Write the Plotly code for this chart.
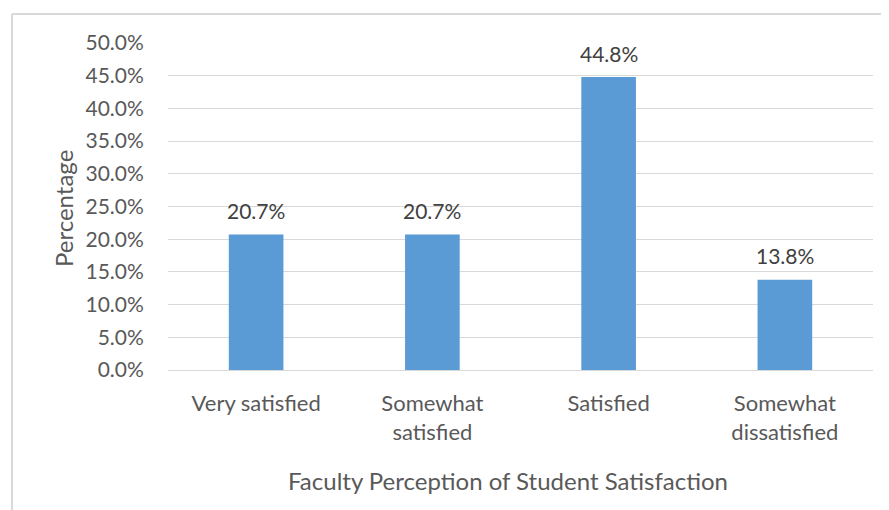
import plotly.graph_objects as go

categories = ["Very satisfied", "Somewhat<br>satisfied", "Satisfied", "Somewhat<br>dissatisfied"]
values = [20.7, 20.7, 44.8, 13.8]
x_title = "Faculty Perception of Student Satisfaction"
y_title = "Percentage"

FONT = "Lato"
GREY = "#595959"
W, H = 881, 502
L, R, T, B = 160, 16, 35, 140
pw, ph = W - L - R, H - T - B

fig = go.Figure(go.Bar(
    x=categories, y=values,
    marker=dict(color="#5b9bd5", line=dict(width=0)),
    hoverinfo="skip",
))

annotations = [
    dict(x=c, y=v, xref="x", yref="y", text=f"{v:.1f}%", showarrow=False,
         yanchor="middle", yshift=24, font=dict(family=FONT, size=21, color="#404040"))
    for c, v in zip(categories, values)
]
annotations += [
    dict(x=(55 - L) / pw, y=(H - B - 201) / ph, xref="paper", yref="paper",
         text=y_title, textangle=-90, showarrow=False, xanchor="center", yanchor="middle",
         font=dict(family=FONT, size=24, color=GREY)),
    dict(x=(500 - L) / pw, y=(H - B - 472) / ph, xref="paper", yref="paper",
         text=x_title, showarrow=False, xanchor="center", yanchor="middle",
         font=dict(family=FONT, size=24, color=GREY)),
]

fig.update_layout(
    width=W, height=H,
    margin=dict(l=L, r=R, t=T, b=B, autoexpand=False),
    paper_bgcolor="white", plot_bgcolor="white",
    bargap=0.69,
    showlegend=False,
    font=dict(family=FONT, size=21, color=GREY),
    xaxis=dict(
        showgrid=False, showline=True, linecolor="#d9d9d9", linewidth=1,
        ticks="outside", ticklen=14, tickcolor="rgba(0,0,0,0)",
        tickfont=dict(size=22, color=GREY),
    ),
    yaxis=dict(
        range=[0, 50], dtick=5, tickformat=".1f", ticksuffix="%",
        showgrid=True, gridcolor="#d9d9d9", gridwidth=1, zeroline=False,
        ticks="outside", ticklen=19, tickcolor="rgba(0,0,0,0)",
        tickfont=dict(size=21, color=GREY),
    ),
    annotations=annotations,
    shapes=[
        dict(type="line", xref="paper", yref="paper",
             x0=(4 - L) / pw, x1=(W + 5 - L) / pw,
             y0=(H - B - 6) / ph, y1=(H - B - 6) / ph,
             line=dict(color="#d9d9d9", width=2)),
        dict(type="line", xref="paper", yref="paper",
             x0=(4 - L) / pw, x1=(4 - L) / pw,
             y0=(H - B - 6) / ph, y1=(H - B - H - 5) / ph,
             line=dict(color="#d9d9d9", width=2)),
    ],
)

fig.write_html("out.html")
